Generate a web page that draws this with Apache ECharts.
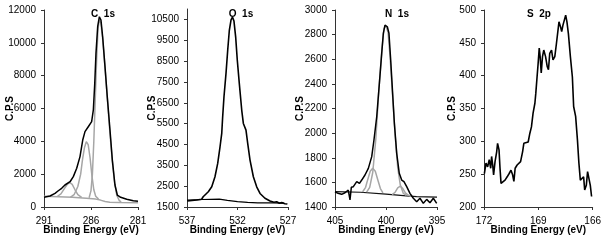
<!DOCTYPE html>
<html>
<head>
<meta charset="utf-8">
<script src="https://cdn.jsdelivr.net/npm/echarts@6/dist/echarts.min.js"></script>
<style>
  html, body { margin: 0; padding: 0; background: #fff; }
  #chart { width: 604px; height: 247px; }
</style>
</head>
<body>
<div id="chart"></div>
<script>
// ---- C 1s ----
var c1sE = [291, 290.36, 289.83, 289.48, 289.12, 288.77, 288.23, 287.88, 287.52, 287.17, 286.88, 286.64, 286.29, 285.93, 285.75, 285.6, 285.47, 285.29, 285.11, 284.94, 284.76, 284.51, 284.27, 283.98, 283.73, 283.45, 283.2, 282.84, 282.2, 281.5, 281];
var c1sCps = [590, 670, 835, 990, 1140, 1340, 1540, 1850, 2360, 3070, 4080, 4590, 4890, 5200, 5910, 7530, 9360, 10980, 11590, 11390, 10370, 8550, 6720, 4690, 2860, 1340, 730, 590, 470, 385, 345];
var c1sBaseE = [291, 288, 286.5, 285.5, 285, 284.5, 284, 283, 281];
var c1sBaseCps = [650, 600, 540, 480, 420, 340, 290, 270, 260];
var c1sPeakAE = [289.6, 289.2, 288.8, 288.5, 288.25, 288.0, 287.7, 287.4, 287.0];
var c1sPeakACps = [640, 800, 1150, 1400, 1480, 1380, 1050, 750, 590];
var c1sPeakBE = [288.2, 287.8, 287.4, 287.1, 286.9, 286.7, 286.5, 286.3, 286.1, 285.9, 285.7, 285.5, 285.2];
var c1sPeakBCps = [590, 750, 1250, 2000, 2900, 3600, 3980, 3800, 3000, 1900, 1050, 650, 480];
var c1sPeakCE = [286.2, 286.0, 285.85, 285.7, 285.55, 285.4, 285.25, 285.1, 284.95, 284.75, 284.5, 284.25, 284.0, 283.75, 283.5, 283.25, 283.0, 282.8];
var c1sPeakCCps = [560, 1000, 2000, 4000, 6500, 9000, 10900, 11400, 11200, 10200, 8400, 6500, 4600, 2900, 1500, 700, 400, 300];

// ---- O 1s ----
var o1sE = [536.97, 536.04, 535.55, 535.4, 534.89, 534.55, 534.23, 533.96, 533.73, 533.56, 533.47, 533.34, 533.14, 532.97, 532.81, 532.64, 532.5, 532.35, 532.18, 532.02, 531.82, 531.58, 531.42, 531.16, 530.99, 530.76, 530.43, 530.1, 529.77, 529.28, 528.78, 528.4, 528.12, 527.85, 527.62, 527.3, 527.06];
var o1sCps = [1787, 1835, 1870, 1990, 2230, 2470, 2950, 3590, 4390, 5030, 5820, 6780, 7900, 9020, 9970, 10480, 10610, 10420, 9650, 8540, 7420, 6140, 5510, 5190, 4550, 3750, 2950, 2470, 2150, 1920, 1790, 1730, 1750, 1680, 1710, 1660, 1640];
var o1sBaseE = [537, 535.5, 533.8, 533, 532, 531, 530, 528.5, 527.4];
var o1sBaseCps = [1830, 1860, 1880, 1820, 1760, 1720, 1700, 1700, 1690];

// ---- N 1s ----
var n1sE = [405, 404.7, 404.35, 404.02, 403.7, 403.53, 403.4, 403.2, 402.87, 402.6, 402.38, 402.06, 401.73, 401.4, 401.18, 400.91, 400.65, 400.42, 400.26, 400.1, 399.87, 399.71, 399.54, 399.35, 399.18, 398.95, 398.7, 398.46, 398.24, 397.97, 397.65, 397.32, 396.99, 396.67, 396.34, 396.01, 395.69, 395.36, 395.03];
var n1sCps = [1524, 1511, 1503, 1516, 1538, 1457, 1560, 1565, 1606, 1592, 1619, 1660, 1714, 1809, 1944, 2133, 2404, 2648, 2811, 2878, 2864, 2811, 2594, 2323, 2080, 1836, 1674, 1619, 1606, 1565, 1511, 1471, 1443, 1471, 1430, 1462, 1435, 1471, 1430];
var n1sBaseE = [405, 402.5, 400, 398, 397, 395];
var n1sBaseCps = [1525, 1520, 1505, 1490, 1485, 1480];
var n1sPeakAE = [402.3, 402.0, 401.8, 401.55, 401.3, 401.05, 400.8, 400.55, 400.3];
var n1sPeakACps = [1522, 1560, 1620, 1690, 1715, 1690, 1620, 1550, 1515];
var n1sPeakBE = [401.9, 401.6, 401.3, 401.0, 400.7, 400.4, 400.2, 400.0, 399.8, 399.6, 399.35, 399.1, 398.85, 398.6, 398.3, 398.0];
var n1sPeakBCps = [1520, 1560, 1680, 1950, 2350, 2680, 2850, 2870, 2820, 2620, 2300, 1980, 1720, 1580, 1510, 1495];
var n1sPeakCE = [399.4, 399.1, 398.85, 398.6, 398.35, 398.1, 397.8, 397.5];
var n1sPeakCCps = [1500, 1520, 1555, 1570, 1550, 1515, 1495, 1485];

// ---- S 2p ----
var s2pE = [171.98, 171.89, 171.8, 171.71, 171.63, 171.58, 171.52, 171.47, 171.39, 171.3, 171.25, 171.17, 171.12, 171.06, 170.97, 170.84, 170.72, 170.61, 170.51, 170.42, 170.35, 170.28, 170.17, 170.07, 169.98, 169.87, 169.8, 169.69, 169.56, 169.47, 169.38, 169.29, 169.19, 169.14, 169.07, 169.01, 168.95, 168.9, 168.84, 168.77, 168.7, 168.6, 168.51, 168.44, 168.37, 168.27, 168.19, 168.09, 168.0, 167.91, 167.86, 167.78, 167.71, 167.64, 167.56, 167.49, 167.42, 167.34, 167.23, 167.12, 167.05, 166.94, 166.84, 166.76, 166.68, 166.57, 166.5, 166.44, 166.35, 166.28, 166.2, 166.13, 166.06];
var s2pCps = [251, 267, 261, 272, 259, 277, 264, 249, 269, 284, 297, 287, 261, 236, 233, 241, 246, 251, 256, 249, 239, 259, 264, 261, 269, 284, 297, 294, 299, 312, 322, 343, 358, 373, 398, 419, 442, 429, 404, 429, 439, 429, 414, 409, 434, 439, 424, 429, 449, 470, 482, 475, 467, 477, 485, 492, 482, 464, 429, 398, 353, 338, 302, 267, 241, 239, 246, 226, 233, 254, 251, 233, 216];

// ---- axes ----
var panelTitles = ['C  1s', 'O  1s', 'N  1s', 'S  2p'];
var xMins = [281, 527, 395, 166];
var xMaxs = [291, 537, 405, 172];
var xTicks = [[281, 286, 291], [527, 532, 537], [395, 400, 405], [166, 169, 172]];
var yMins = [0, 1500, 1400, 200];
var yMaxs = [12000, 11000, 3000, 500];
var yTicks = [
  [0, 2000, 4000, 6000, 8000, 10000, 12000],
  [1500, 2500, 3500, 4500, 5500, 6500, 7500, 8500, 9500, 10500],
  [1400, 1600, 1800, 2000, 2200, 2400, 2600, 2800, 3000],
  [200, 250, 300, 350, 400, 450, 500]
];

function pairs(xs, ys) {
  return xs.map(function (x, i) { return [x, ys[i]]; });
}

var font = 'Arial, "Liberation Sans", sans-serif';
var grids = [
  { left: 44, width: 94, top: 10, height: 197 },
  { left: 187, width: 101, top: 9, height: 198 },
  { left: 335, width: 102, top: 10, height: 197 },
  { left: 484, width: 109, top: 10, height: 197 }
];
var titleX = [98, 236, 392, 534];
var yNameGap = [29, 30, 30, 27];

var xAxes = [], yAxes = [], titles = [];
for (var i = 0; i < 4; i++) {
  xAxes.push({
    gridIndex: i, type: 'value', inverse: true, min: xMins[i], max: xMaxs[i],
    name: 'Binding Energy (eV)', nameLocation: 'middle', nameGap: 18, nameMoveOverlap: false,
    nameTextStyle: { fontFamily: font, fontSize: 10, fontWeight: 'bold', color: '#000' },
    axisLine: { lineStyle: { color: '#333', width: 1 } },
    axisTick: { length: 3, customValues: xTicks[i], lineStyle: { color: '#333' } },
    axisLabel: { customValues: xTicks[i], margin: 9, fontFamily: font, fontSize: 10, color: '#000',
      formatter: function (v) { return String(v); } },
    splitLine: { show: false }
  });
  yAxes.push({
    gridIndex: i, type: 'value', min: yMins[i], max: yMaxs[i],
    name: 'C.P.S', nameLocation: 'middle', nameRotate: 90, nameGap: yNameGap[i], nameMoveOverlap: false,
    nameTextStyle: { fontFamily: font, fontSize: 10, fontWeight: 'bold', color: '#000' },
    axisLine: { show: true, lineStyle: { color: '#333', width: 1 } },
    axisTick: { show: true, length: 3, customValues: yTicks[i], lineStyle: { color: '#333' } },
    axisLabel: { customValues: yTicks[i], margin: 8, fontFamily: font, fontSize: 10, color: '#000',
      formatter: function (v) { return String(v); } },
    splitLine: { show: false }
  });
  titles.push({
    text: panelTitles[i], left: titleX[i], top: 4, textAlign: 'center',
    textStyle: { fontFamily: font, fontSize: 10, fontWeight: 'bold', color: '#000' }
  });
}

function line(idx, xs, ys, color, width, z) {
  return {
    type: 'line', xAxisIndex: idx, yAxisIndex: idx, data: pairs(xs, ys),
    showSymbol: false, silent: true, z: z,
    lineStyle: { color: color, width: width }
  };
}

var grey = '#a6a6a6';
var chart = echarts.init(document.getElementById('chart'), null, { renderer: 'canvas' });
chart.setOption({
  animation: false,
  backgroundColor: '#fff',
  title: titles,
  grid: grids,
  xAxis: xAxes,
  yAxis: yAxes,
  series: [
    line(0, c1sBaseE, c1sBaseCps, grey, 1.5, 2),
    line(0, c1sPeakAE, c1sPeakACps, grey, 1.5, 2),
    line(0, c1sPeakBE, c1sPeakBCps, grey, 1.5, 2),
    line(0, c1sPeakCE, c1sPeakCCps, grey, 1.5, 2),
    line(0, c1sE, c1sCps, '#000', 1.5, 3),
    line(1, o1sBaseE, o1sBaseCps, '#000', 1.2, 2),
    line(1, o1sE, o1sCps, '#000', 1.6, 3),
    line(2, n1sBaseE, n1sBaseCps, '#111', 1.2, 2),
    line(2, n1sPeakAE, n1sPeakACps, grey, 1.5, 2),
    line(2, n1sPeakBE, n1sPeakBCps, grey, 1.5, 2),
    line(2, n1sPeakCE, n1sPeakCCps, grey, 1.5, 2),
    line(2, n1sE, n1sCps, '#000', 1.5, 3),
    line(3, s2pE, s2pCps, '#000', 1.6, 3)
  ]
});
</script>
</body>
</html>
